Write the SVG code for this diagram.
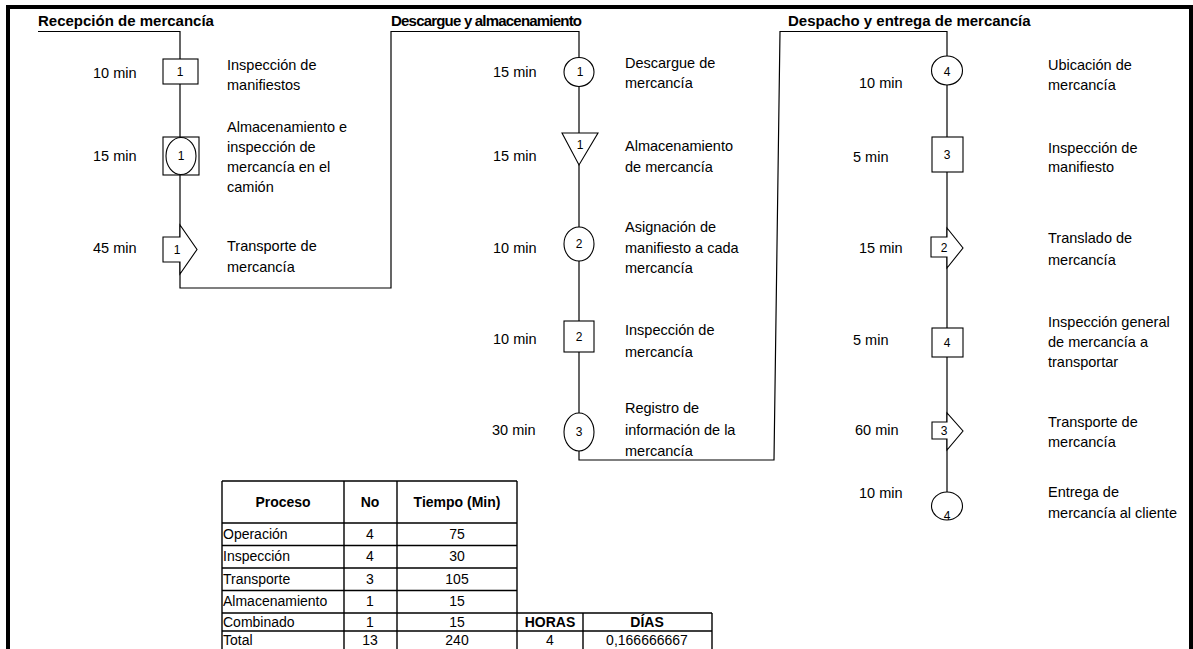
<svg xmlns="http://www.w3.org/2000/svg" width="1193" height="649" viewBox="0 0 1193 649">
  <style>
    .frame { fill: none; stroke: #000; stroke-width: 4; }
    .flow { fill: none; stroke: #000; stroke-width: 1.2; }
    .sym { fill: #fff; stroke: #000; stroke-width: 1.1; }
    .head { font-family: "Liberation Sans", Arial, sans-serif; font-weight: bold; font-size: 15px; fill: #000; }
    .time { font-family: "Liberation Sans", Arial, sans-serif; font-size: 14.5px; fill: #000; }
    .desc { font-family: "Liberation Sans", Arial, sans-serif; font-size: 14.5px; fill: #000; }
    .num { font-family: "Liberation Sans", Arial, sans-serif; font-size: 12px; fill: #000; text-anchor: middle; }
    .grid { fill: none; stroke: #000; stroke-width: 1.4; }
    .cell { font-family: "Liberation Sans", Arial, sans-serif; font-size: 14px; fill: #000; }
    .cellc { font-family: "Liberation Sans", Arial, sans-serif; font-size: 14px; fill: #000; text-anchor: middle; }
    .cellh { font-family: "Liberation Sans", Arial, sans-serif; font-size: 14px; font-weight: bold; fill: #000; text-anchor: middle; }
  </style>

  <rect width="1193" height="649" fill="#fff"/>

  <!-- outer frame, open at the bottom -->
  <path class="frame" d="M8,649 V7 H1191 V649"/>

  <!-- section titles -->
  <text class="head" x="38" y="26">Recepción de mercancía</text>
  <text class="head" x="391" y="26" font-size="11.5" textLength="191" lengthAdjust="spacing">Descargue y almacenamiento</text>
  <text class="head" x="788" y="26">Despacho y entrega de mercancía</text>

  <!-- process flow line -->
  <g id="connectors">
    <path class="flow" d="M38,31.5 H180 V288 H391 V31.5 H579 V460 H774 L780,31.5 H947 V492"/>
  </g>

  <!-- Recepción de mercancía -->
  <g id="r1">
    <rect class="sym" x="163" y="59" width="35" height="25"/>
    <text class="num" x="180" y="76">1</text>
    <text class="time" x="93" y="78">10 min</text>
    <text class="desc" x="227" y="70">Inspección de</text>
    <text class="desc" x="227" y="90">manifiestos</text>
  </g>
  <g id="r2">
    <rect class="sym" x="163" y="137" width="36" height="38"/>
    <ellipse class="sym" cx="181" cy="156" rx="15" ry="18.5"/>
    <text class="num" x="181" y="160">1</text>
    <text class="time" x="93" y="161">15 min</text>
    <text class="desc" x="227" y="132">Almacenamiento e</text>
    <text class="desc" x="227" y="152">inspección de</text>
    <text class="desc" x="227" y="172">mercancía en el</text>
    <text class="desc" x="227" y="192">camión</text>
  </g>
  <g id="r3">
    <polygon class="sym" points="163,237 180,237 180,225 197,249.5 180,274 180,262 163,262"/>
    <text class="num" x="177" y="254">1</text>
    <text class="time" x="93" y="253">45 min</text>
    <text class="desc" x="227" y="251">Transporte de</text>
    <text class="desc" x="227" y="272">mercancía</text>
  </g>

  <!-- Descargue y almacenamiento -->
  <g id="d1">
    <ellipse class="sym" cx="579" cy="72" rx="15" ry="14.5"/>
    <text class="num" x="580" y="76">1</text>
    <text class="time" x="493" y="77">15 min</text>
    <text class="desc" x="625" y="68">Descargue de</text>
    <text class="desc" x="625" y="88">mercancía</text>
  </g>
  <g id="d2">
    <polygon class="sym" points="562,133 598,133 579,165"/>
    <text class="num" x="580" y="149">1</text>
    <text class="time" x="493" y="161">15 min</text>
    <text class="desc" x="625" y="151">Almacenamiento</text>
    <text class="desc" x="625" y="172">de mercancía</text>
  </g>
  <g id="d3">
    <ellipse class="sym" cx="579" cy="244" rx="15" ry="17"/>
    <text class="num" x="579" y="248">2</text>
    <text class="time" x="493" y="253">10 min</text>
    <text class="desc" x="625" y="232">Asignación de</text>
    <text class="desc" x="625" y="253">manifiesto a cada</text>
    <text class="desc" x="625" y="273">mercancía</text>
  </g>
  <g id="d4">
    <rect class="sym" x="564" y="321" width="30" height="31"/>
    <text class="num" x="579" y="341">2</text>
    <text class="time" x="493" y="344">10 min</text>
    <text class="desc" x="625" y="335">Inspección de</text>
    <text class="desc" x="625" y="357">mercancía</text>
  </g>
  <g id="d5">
    <ellipse class="sym" cx="579" cy="432" rx="15" ry="19"/>
    <text class="num" x="579" y="436">3</text>
    <text class="time" x="492" y="435">30 min</text>
    <text class="desc" x="625" y="413">Registro de</text>
    <text class="desc" x="625" y="435">información de la</text>
    <text class="desc" x="625" y="456">mercancía</text>
  </g>

  <!-- Despacho y entrega de mercancía -->
  <g id="e1">
    <ellipse class="sym" cx="947" cy="70.5" rx="15.5" ry="14.5"/>
    <text class="num" x="947" y="76">4</text>
    <text class="time" x="859" y="88">10 min</text>
    <text class="desc" x="1048" y="70">Ubicación de</text>
    <text class="desc" x="1048" y="90">mercancía</text>
  </g>
  <g id="e2">
    <rect class="sym" x="932" y="137" width="31" height="35"/>
    <text class="num" x="947" y="159">3</text>
    <text class="time" x="853" y="162">5 min</text>
    <text class="desc" x="1048" y="153">Inspección de</text>
    <text class="desc" x="1048" y="172">manifiesto</text>
  </g>
  <g id="e3">
    <polygon class="sym" points="931,237 947,237 947,228 963,248 947,268 947,257 931,257"/>
    <text class="num" x="944" y="252">2</text>
    <text class="time" x="859" y="253">15 min</text>
    <text class="desc" x="1048" y="243">Translado de</text>
    <text class="desc" x="1048" y="265">mercancía</text>
  </g>
  <g id="e4">
    <rect class="sym" x="932" y="328" width="31" height="29"/>
    <text class="num" x="947" y="347">4</text>
    <text class="time" x="853" y="345">5 min</text>
    <text class="desc" x="1048" y="327">Inspección general</text>
    <text class="desc" x="1048" y="347">de mercancía a</text>
    <text class="desc" x="1048" y="367">transportar</text>
  </g>
  <g id="e5">
    <polygon class="sym" points="932,422 947,422 947,413 963,431 947,450 947,439 932,439"/>
    <text class="num" x="944" y="435">3</text>
    <text class="time" x="855" y="435">60 min</text>
    <text class="desc" x="1048" y="427">Transporte de</text>
    <text class="desc" x="1048" y="447">mercancía</text>
  </g>
  <g id="e6">
    <ellipse class="sym" cx="947" cy="506" rx="15.5" ry="14"/>
    <text class="num" x="947" y="520">4</text>
    <text class="time" x="859" y="498">10 min</text>
    <text class="desc" x="1048" y="497">Entrega de</text>
    <text class="desc" x="1048" y="518">mercancía al cliente</text>
  </g>

  <!-- summary table -->
  <g id="summary">
    <path class="grid" d="M222,481 H517 M222,523 H517 M222,545.5 H517 M222,568 H517 M222,590.5 H517 M222,613 H712 M222,631 H712
                          M222,481 V649 M344,481 V649 M397,481 V649 M517,481 V649 M583,613 V649 M712,613 V649"/>
    <text class="cellh" x="283" y="507">Proceso</text>
    <text class="cellh" x="370" y="507">No</text>
    <text class="cellh" x="457" y="507">Tiempo (Min)</text>

    <text class="cell" x="223" y="539">Operación</text>
    <text class="cellc" x="370" y="539">4</text>
    <text class="cellc" x="457" y="539">75</text>

    <text class="cell" x="223" y="561">Inspección</text>
    <text class="cellc" x="370" y="561">4</text>
    <text class="cellc" x="457" y="561">30</text>

    <text class="cell" x="223" y="584">Transporte</text>
    <text class="cellc" x="370" y="584">3</text>
    <text class="cellc" x="457" y="584">105</text>

    <text class="cell" x="223" y="606">Almacenamiento</text>
    <text class="cellc" x="370" y="606">1</text>
    <text class="cellc" x="457" y="606">15</text>

    <text class="cell" x="223" y="627">Combinado</text>
    <text class="cellc" x="370" y="627">1</text>
    <text class="cellc" x="457" y="627">15</text>
    <text class="cellh" x="550" y="627">HORAS</text>
    <text class="cellh" x="647" y="627">DÍAS</text>

    <text class="cell" x="223" y="645">Total</text>
    <text class="cellc" x="370" y="645">13</text>
    <text class="cellc" x="457" y="645">240</text>
    <text class="cellc" x="550" y="645">4</text>
    <text class="cellc" x="647" y="645">0,166666667</text>
  </g>
</svg>
